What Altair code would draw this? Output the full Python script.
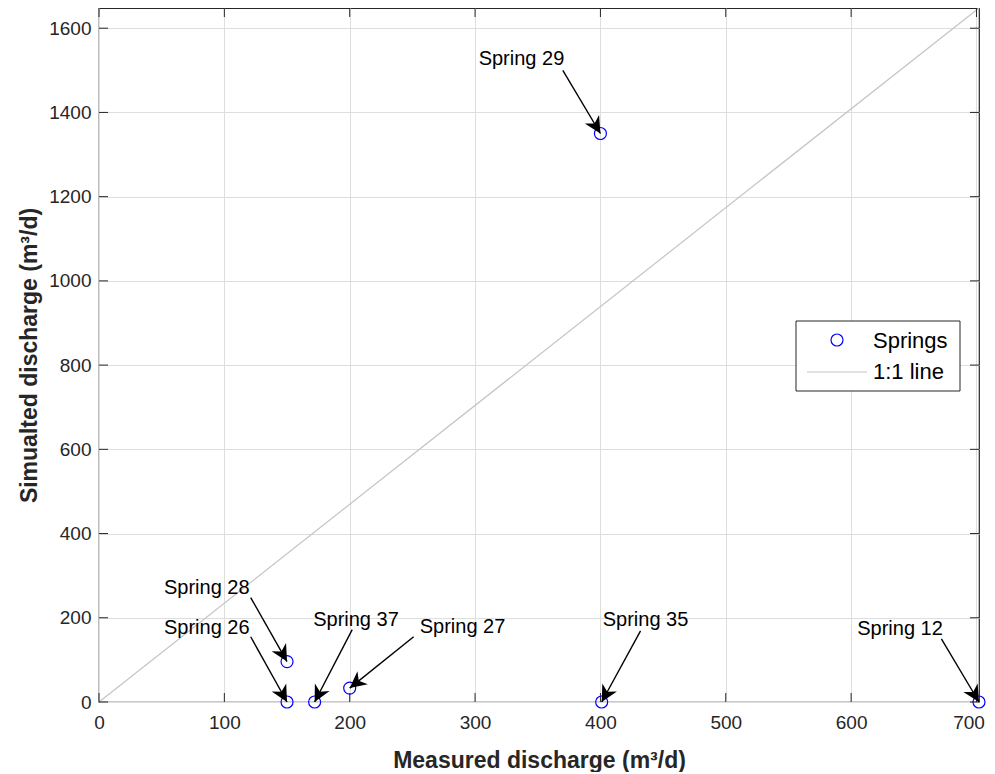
import math
import altair as alt
import pandas as pd

# ---- data ----
spring_names = ["Spring 29", "Spring 28", "Spring 26", "Spring 37", "Spring 27", "Spring 35", "Spring 12"]
measured = [400, 150, 150, 172, 200, 401, 702]
simulated = [1350, 96, 0, 0, 33, 0, 0]
# annotation text anchor and arrow tail (data units)
label_x = [337, 86, 86, 205, 290, 436, 639]
label_y = [1526, 271, 176, 195, 179, 195, 174]
arrow_x0 = [370, 121, 121, 202, 251, 432, 672]
arrow_y0 = [1500, 248, 155, 172, 155, 169, 150]
# 1:1 reference line (corner to corner of the axes)
line_x = [0, 702]
line_y = [0, 1648]
x_ticks = [0, 100, 200, 300, 400, 500, 600, 700]
y_ticks = [0, 200, 400, 600, 800, 1000, 1200, 1400, 1600]
legend_labels = ["Springs", "1:1 line"]

W, H = 880, 694
XMAX, YMAX = 702, 1648
FONT = "Liberation Sans"
AX = "#262626"

xs = alt.Scale(domain=[0, XMAX], nice=False, zero=False)
ys = alt.Scale(domain=[0, YMAX], nice=False, zero=False)

# arrow-head angles computed in pixel space
sx, sy = W / XMAX, H / YMAX
angles = []
for x0, y0, x1, y1 in zip(arrow_x0, arrow_y0, measured, simulated):
    dx = (x1 - x0) * sx
    dy = -(y1 - y0) * sy
    angles.append(math.degrees(math.atan2(dx, -dy)) % 360)

pts = pd.DataFrame({"name": spring_names, "x": measured, "y": simulated,
                    "lx": label_x, "ly": label_y, "ax": arrow_x0, "ay": arrow_y0,
                    "ang": angles})
line_df = pd.DataFrame({"x": line_x, "y": line_y})
xt = pd.DataFrame({"x": x_ticks})
yt = pd.DataFrame({"y": y_ticks})
one = pd.DataFrame({"a": [0]})

x_axis = alt.Axis(values=x_ticks, grid=True, gridColor="#dedede", gridWidth=1,
                  domain=False, ticks=False, labelFontSize=19, labelFont=FONT,
                  labelColor=AX, labelPadding=11, format="d", labelFlush=False,
                  labelOffset={"expr": "datum.value == 700 ? -8 : 0"},
                  title="Measured discharge (m³/d)", titleFont=FONT, titleFontSize=23,
                  titleFontWeight="bold", titleColor=AX, titleX=W / 2, titleY=58,
                  titleAlign="center", titleBaseline="middle")
y_axis = alt.Axis(values=y_ticks, grid=True, gridColor="#dedede", gridWidth=1,
                  domain=False, ticks=False, labelFontSize=19, labelFont=FONT,
                  labelColor=AX, labelPadding=8, format="d", labelFlush=False,
                  title="Simualted discharge (m³/d)", titleFont=FONT, titleFontSize=23,
                  titleFontWeight="bold", titleColor=AX, titleX=-70, titleY=H / 2,
                  titleAngle=270, titleAlign="center", titleBaseline="middle")


def X(field):
    return alt.X(field, type="quantitative", scale=xs, axis=x_axis)


def Y(field):
    return alt.Y(field, type="quantitative", scale=ys, axis=y_axis)


one_to_one = alt.Chart(line_df).mark_line(color="#c4c4c4", strokeWidth=1.2).encode(
    x=X("x"), y=Y("y"))

tick_len = 9
xt_bottom = alt.Chart(xt).mark_rule(color=AX, strokeWidth=1).encode(
    x=X("x"), y=alt.value(H), y2=alt.value(H - tick_len))
xt_top = alt.Chart(xt).mark_rule(color=AX, strokeWidth=1).encode(
    x=X("x"), y=alt.value(0), y2=alt.value(tick_len))
yt_left = alt.Chart(yt).mark_rule(color=AX, strokeWidth=1).encode(
    y=Y("y"), x=alt.value(0), x2=alt.value(tick_len))
yt_right = alt.Chart(yt).mark_rule(color=AX, strokeWidth=1).encode(
    y=Y("y"), x=alt.value(W), x2=alt.value(W - tick_len))

points = alt.Chart(pts).mark_point(shape="circle", size=144, filled=False,
                                   color="#0000ff", strokeWidth=1.2, opacity=1).encode(
    x=X("x"), y=Y("y"))

arrow_lines = alt.Chart(pts).mark_rule(color="black", strokeWidth=1.4).encode(
    x=X("ax"), y=Y("ay"), x2="x:Q", y2="y:Q")

head_path = "M0,0 L-0.5,1 L0,0.7 L0.5,1 Z"
arrow_heads = alt.Chart(pts).mark_point(shape=head_path, size=1100, filled=True,
                                        color="black", opacity=1, strokeWidth=0).encode(
    x=X("x"), y=Y("y"), angle=alt.Angle("ang:Q", scale=None))

labels = alt.Chart(pts).mark_text(font=FONT, fontSize=20, color="black",
                                  align="center", baseline="middle").encode(
    x=X("lx"), y=Y("ly"), text="name:N")

# manual legend box (MATLAB style)
leg_box = alt.Chart(one).mark_rect(fill="white", stroke=AX, strokeWidth=1).encode(
    x=alt.value(697), x2=alt.value(861), y=alt.value(313), y2=alt.value(383))
leg_marker = alt.Chart(one).mark_point(shape="circle", size=144, filled=False,
                                       color="#0000ff", strokeWidth=1.2, opacity=1).encode(
    x=alt.value(738), y=alt.value(332))
leg_line = alt.Chart(one).mark_rule(color="#c4c4c4", strokeWidth=1.2).encode(
    x=alt.value(708), x2=alt.value(768), y=alt.value(364))
leg_t1 = alt.Chart(one).mark_text(font=FONT, fontSize=22, color="black", align="left",
                                  baseline="middle", text=legend_labels[0]).encode(
    x=alt.value(774), y=alt.value(333))
leg_t2 = alt.Chart(one).mark_text(font=FONT, fontSize=22, color="black", align="left",
                                  baseline="middle", text=legend_labels[1]).encode(
    x=alt.value(774), y=alt.value(364))

chart = alt.layer(
    one_to_one, xt_bottom, xt_top, yt_left, yt_right,
    points, arrow_lines, arrow_heads, labels,
    leg_box, leg_marker, leg_line, leg_t1, leg_t2,
).properties(
    width=W, height=H,
    autosize=alt.AutoSizeParams(type="none"),
    padding={"left": 91, "top": 0, "right": 8, "bottom": 70},
    background="white",
).configure_view(stroke=AX, strokeWidth=1.2)

chart.save("out.html", embed_options={"renderer": "svg", "actions": False})
